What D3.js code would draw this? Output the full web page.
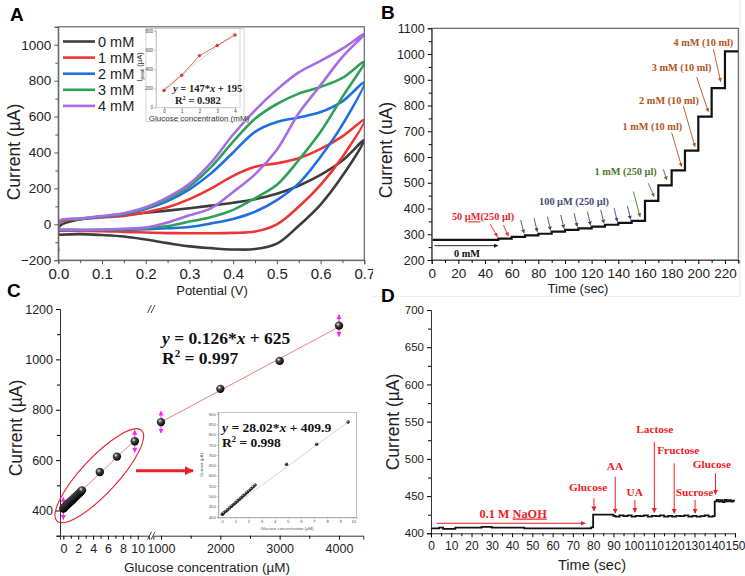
<!DOCTYPE html>
<html>
<head>
<meta charset="utf-8">
<script src="https://cdnjs.cloudflare.com/ajax/libs/d3/7.8.5/d3.min.js"></script>
<style>
body { margin: 0; background: #fff; }
text { font-family: "Liberation Sans", Arial, sans-serif; }
.serif { font-family: "Liberation Serif", "Times New Roman", serif; font-weight: bold; }
</style>
</head>
<body>
<script>
// ---- panel A: cyclic voltammograms ----
var cvNames = ["0 mM", "1 mM", "2 mM", "3 mM", "4 mM"];
var cvColors = ["#3d3d3d", "#ee3535", "#1f6fe0", "#2da157", "#a56ce6"];
var cvV = [0, 0.05, 0.1, 0.15, 0.2, 0.25, 0.3, 0.35, 0.4, 0.45, 0.5, 0.55, 0.6, 0.65, 0.7];
var cvStart = [-58, -35, -150, -30, -30];
var cvUp = [
  [-10, 28, 42, 52, 64, 76, 89, 104, 120, 140, 170, 215, 275, 355, 470],
  [10, 28, 38, 47, 67, 95, 140, 200, 270, 320, 340, 368, 420, 490, 580],
  [15, 30, 42, 55, 85, 130, 195, 285, 400, 515, 570, 595, 625, 685, 790],
  [15, 30, 44, 58, 90, 140, 212, 320, 460, 588, 670, 728, 765, 815, 905],
  [20, 32, 46, 62, 95, 150, 225, 345, 500, 635, 750, 846, 910, 978, 1060]
];
var cvDown = [
  [-58, -55, -60, -68, -85, -105, -123, -133, -140, -138, -108, -8, 110, 270, 470],
  [-35, -37, -38, -42, -46, -49, -50, -50, -48, -40, 0, 98, 220, 375, 580],
  [-30, -32, -32, -30, -28, -22, -15, 5, 30, 70, 135, 228, 376, 555, 790],
  [-30, -32, -30, -28, -22, -10, 15, 40, 80, 145, 220, 358, 515, 710, 905],
  [-30, -32, -30, -25, -18, 10, 50, 90, 180, 278, 415, 618, 775, 932, 1060]
];
// inset A
var peakConc = [0, 1, 2, 3, 4];
var peakCur = [175, 335, 540, 645, 755];

// ---- panel B: amperometric steps ----
var stepTime = [0, 50, 60, 70, 80, 90, 100, 110, 120, 130, 140, 150, 160, 170, 180, 190, 200, 210, 220, 230];
var stepCur = [278, 283, 290, 296, 302, 310, 317, 323, 330, 337, 344, 352, 430, 490, 548, 625, 757, 868, 1010, 1010];
var bNotes = [
  { text: ["50 ", "µM", "(250 µl)"], t: 38.5, I: 368, color: "#e3262a" },
  { text: ["100 µM (250 µl)"], t: 106.8, I: 427, color: "#3e4c74" },
  { text: ["1 mM (250 µl)"], t: 145.5, I: 543, color: "#4a7a2a" },
  { text: ["1 mM (10 ml)"], t: 165.5, I: 718, color: "#b4541c" },
  { text: ["2 mM (10 ml)"], t: 178, I: 819, color: "#b4541c" },
  { text: ["3 mM (10 ml)"], t: 187.5, I: 947, color: "#b4541c" },
  { text: ["4 mM (10 ml)"], t: 203.8, I: 1044, color: "#b4541c" }
];
var bArrows = [
  { t0: 43.8, I0: 340, t1: 49.2, I1: 291, color: "#e3262a" },
  { t0: 53.8, I0: 335, t1: 57.5, I1: 293, color: "#e3262a" },
  { t0: 66.8, I0: 355, t1: 69.2, I1: 304, color: "#3e4c74" },
  { t0: 76.8, I0: 362, t1: 79.2, I1: 310, color: "#3e4c74" },
  { t0: 86.8, I0: 368, t1: 89.2, I1: 316, color: "#3e4c74" },
  { t0: 96.8, I0: 375, t1: 99.2, I1: 323, color: "#3e4c74" },
  { t0: 106.8, I0: 382, t1: 109.2, I1: 330, color: "#3e4c74" },
  { t0: 116.8, I0: 388, t1: 119.2, I1: 336, color: "#3e4c74" },
  { t0: 126.8, I0: 395, t1: 129.2, I1: 343, color: "#3e4c74" },
  { t0: 136.8, I0: 402, t1: 139.2, I1: 350, color: "#3e4c74" },
  { t0: 146.8, I0: 410, t1: 149.2, I1: 358, color: "#3e4c74" },
  { t0: 151.3, I0: 466, t1: 156.3, I1: 368, color: "#4a7a2a" },
  { t0: 162.5, I0: 498, t1: 166.8, I1: 446, color: "#4a7a2a" },
  { t0: 173.8, I0: 552, t1: 176.3, I1: 511, color: "#4a7a2a" },
  { t0: 180, I0: 695, t1: 187.5, I1: 563, color: "#b4541c" },
  { t0: 188.8, I0: 798, t1: 197.5, I1: 640, color: "#b4541c" },
  { t0: 198.8, I0: 910, t1: 207.5, I1: 776, color: "#b4541c" },
  { t0: 211.3, I0: 1019, t1: 216.8, I1: 893, color: "#b4541c" }
];

// ---- panel C: calibration ----
var lowConc = [0, 0.05, 0.1, 0.25, 0.4, 0.55, 0.7, 0.85, 1.0, 1.15, 1.3, 1.45, 1.6, 1.75, 1.9, 2.05, 2.2, 2.35, 2.5];
var lowCur = [408, 410, 412, 416, 420, 425, 429, 433, 437, 441, 445, 450, 454, 458, 462, 466, 471, 475, 480];
var lowCurInset = [412, 415, 418, 426, 434, 443, 451, 460, 468, 476, 485, 493, 502, 510, 519, 527, 536, 545, 554];
var midConc = [4.9, 7.2, 9.6];
var midCur = [553, 614, 675];
var midCurInset = [655, 753, 861];
var highConc = [1000, 2000, 3000, 4000];
var highCur = [751, 883, 994, 1134];
var fitHigh = [0.126, 625];
var fitLow = [28.02, 409.9];

// ---- panel D: interference ----
var dTime = [0, 4, 6, 12, 25, 30, 46, 79, 80, 90,
  91, 93, 95, 97, 99, 101, 103, 105, 107, 109, 111, 113, 115, 117, 119, 121, 123, 125, 127, 129, 131, 133, 135, 137, 139,
  140, 141, 142, 143, 144, 145, 146, 147, 148, 149, 150];
var dCur = [406.5, 407.5, 406, 407.5, 408.5, 407.5, 406.5, 408, 425, 423.5,
  422.5, 424, 423, 424, 422.5, 423.5, 423, 424, 422.5, 423.5, 423, 424, 422.5, 423.5, 422.5, 423.5, 423, 424, 422.5, 423.5, 422.5, 423, 424, 422.5, 423,
  443, 445, 442.5, 444.5, 442, 445, 443, 444.5, 442.5, 444, 444];
var dNotes = [
  { text: "Glucose", t: 77.5, I: 462.7, t0: 80.4, I0: 447, I1: 430 },
  { text: "AA", t: 90.8, I: 490.5, t0: 90.9, I0: 476, I1: 427 },
  { text: "UA", t: 100.5, I: 455, t0: 100.6, I0: 444.8, I1: 428.3 },
  { text: "Lactose", t: 110.4, I: 540, t0: 110.2, I0: 523, I1: 428 },
  { text: "Fructose", t: 122, I: 512.5, t0: 120, I0: 494, I1: 427 },
  { text: "Sucrose", t: 130, I: 455, t0: 130.3, I0: 445, I1: 427 },
  { text: "Glucose", t: 138.6, I: 493, t0: 140.4, I0: 480.7, I1: 452.5 }
];

var svg = d3.select("body").append("svg").attr("width", 745).attr("height", 576);
var defs = svg.append("defs");
var fmtInt = d3.format("d");

function arrowMarker(id, color, size) {
  defs.append("marker").attr("id", id)
    .attr("markerUnits", "userSpaceOnUse")
    .attr("markerWidth", size).attr("markerHeight", size)
    .attr("viewBox", "0 0 10 10").attr("refX", 9).attr("refY", 5)
    .attr("orient", "auto-start-reverse")
    .append("path").attr("d", "M0,0 L10,5 L0,10 z").attr("fill", color);
}
var markerIds = {};
function mk(color, size) {
  var id = "m" + color.replace("#", "") + size;
  if (!markerIds[id]) { arrowMarker(id, color, size); markerIds[id] = 1; }
  return "url(#" + id + ")";
}

var grad = defs.append("radialGradient").attr("id", "ball").attr("cx", "38%").attr("cy", "35%").attr("r", "65%");
grad.append("stop").attr("offset", "0%").attr("stop-color", "#f0f0f0");
grad.append("stop").attr("offset", "35%").attr("stop-color", "#4a4a4a");
grad.append("stop").attr("offset", "100%").attr("stop-color", "#000");

function minorAxis(g, axisFn, scale, values) {
  g.call(axisFn(scale).tickValues(values).tickSize(3).tickFormat(""));
  g.select(".domain").remove();
}

// ================= PANEL A =================
var xA = d3.scaleLinear().domain([0, 0.7]).range([58.3, 364.3]);
var yA = d3.scaleLinear().domain([-200, 1100]).range([260.2, 26.8]);
var gA = svg.append("g");
defs.append("clipPath").attr("id", "clipA").append("rect")
  .attr("x", xA(0)).attr("y", yA(1100)).attr("width", xA(0.7) - xA(0)).attr("height", yA(-200) - yA(1100));

var lineA = d3.line().x(d => xA(d[0])).y(d => yA(d[1])).curve(d3.curveCatmullRom.alpha(0.5));
cvNames.forEach(function (name, i) {
  var pts = [[0, cvStart[i]]];
  cvV.forEach(function (v, j) { pts.push([v === 0 ? 0.003 : v, cvUp[i][j]]); });
  for (var j = cvV.length - 2; j >= 0; j--) pts.push([cvV[j], cvDown[i][j]]);
  gA.append("path").attr("d", lineA(pts)).attr("fill", "none")
    .attr("stroke", cvColors[i]).attr("stroke-width", 2.6).attr("clip-path", "url(#clipA)");
});

gA.append("rect").attr("x", xA(0)).attr("y", yA(1100)).attr("width", xA(0.7) - xA(0))
  .attr("height", yA(-200) - yA(1100)).attr("fill", "none").attr("stroke", "#666").attr("stroke-width", 1.2);

var axAy = gA.append("g").attr("transform", "translate(" + xA(0) + ",0)")
  .call(d3.axisLeft(yA).tickValues([-200, 0, 200, 400, 600, 800, 1000]).tickFormat(fmtInt).tickSize(4).tickPadding(3));
minorAxis(gA.append("g").attr("transform", "translate(" + xA(0) + ",0)"), d3.axisLeft, yA, [-100, 100, 300, 500, 700, 900, 1100]);
axAy.selectAll("text").attr("font-size", 13.5).attr("fill", "#222");
var axAx = gA.append("g").attr("transform", "translate(0," + yA(-200) + ")")
  .call(d3.axisBottom(xA).tickValues([0, 0.1, 0.2, 0.3, 0.4, 0.5, 0.6, 0.7]).tickFormat(d3.format(".1f")).tickSize(4).tickPadding(4));
minorAxis(gA.append("g").attr("transform", "translate(0," + yA(-200) + ")"), d3.axisBottom, xA, [0.05, 0.15, 0.25, 0.35, 0.45, 0.55, 0.65]);
axAx.selectAll("text").attr("font-size", 15).attr("fill", "#222");
gA.selectAll(".domain").attr("stroke", "#666");
gA.selectAll(".tick line").attr("stroke", "#555");

gA.append("text").attr("transform", "translate(20,152) rotate(-90)").attr("text-anchor", "middle")
  .attr("font-size", 17.5).attr("fill", "#222").text("Current (µA)");
gA.append("text").attr("x", 212).attr("y", 295).attr("text-anchor", "middle")
  .attr("font-size", 13).attr("fill", "#222").text("Potential (V)");

// legend A
cvNames.forEach(function (name, i) {
  var yy = 41.5 + i * 16.1;
  gA.append("line").attr("x1", 63).attr("x2", 95).attr("y1", yy).attr("y2", yy)
    .attr("stroke", cvColors[i]).attr("stroke-width", 2.6);
  gA.append("text").attr("x", 98).attr("y", yy).attr("dy", "0.35em")
    .attr("font-size", 14.5).attr("fill", "#222").text(name);
});

// inset A
var xAi = d3.scaleLinear().domain([0, 4]).range([164, 235]);
var yAi = d3.scaleLinear().domain([0, 800]).range([107.3, 30.7]);
var gAi = svg.append("g");
gAi.append("rect").attr("x", 146).attr("y", 28.5).attr("width", 98).attr("height", 93)
  .attr("fill", "#fff").attr("stroke", "#ccc").attr("stroke-width", 0.8);
gAi.append("rect").attr("x", 156).attr("y", 28.5).attr("width", 84).attr("height", 78.8)
  .attr("fill", "#fff").attr("stroke", "#bbb").attr("stroke-width", 0.6);
gAi.append("g").attr("transform", "translate(156,0)")
  .call(d3.axisLeft(yAi).tickValues([0, 200, 400, 600, 800]).tickFormat(fmtInt).tickSize(2).tickPadding(1));
gAi.append("g").attr("transform", "translate(0,107.3)")
  .call(d3.axisBottom(xAi).tickValues([0, 1, 2, 3, 4]).tickFormat(fmtInt).tickSize(2).tickPadding(1));
gAi.selectAll(".domain").attr("stroke", "#bbb").attr("stroke-width", 0.6);
gAi.selectAll(".tick line").attr("stroke", "#999").attr("stroke-width", 0.5);
gAi.selectAll(".tick text").attr("font-size", 4.5).attr("fill", "#444");
gAi.append("line").attr("x1", xAi(0)).attr("y1", yAi(195)).attr("x2", xAi(4)).attr("y2", yAi(147 * 4 + 195))
  .attr("stroke", "#bbb").attr("stroke-width", 0.6);
var peakData = peakConc.map((c, i) => [c, peakCur[i]]);
gAi.append("path").attr("d", d3.line().x(d => xAi(d[0])).y(d => yAi(d[1]))(peakData))
  .attr("fill", "none").attr("stroke", "#d9534f").attr("stroke-width", 0.9);
gAi.selectAll("circle").data(peakData).join("circle")
  .attr("cx", d => xAi(d[0])).attr("cy", d => yAi(d[1])).attr("r", 1.7).attr("fill", "#d43a3a");
var ipk = gAi.append("text").attr("transform", "translate(142,67) rotate(-90)").attr("text-anchor", "middle")
  .attr("font-size", 7.5).attr("fill", "#333");
ipk.append("tspan").text("I");
ipk.append("tspan").attr("font-size", 5).attr("dy", 2).text("peak");
ipk.append("tspan").attr("dy", -2).text(" (µA)");
gAi.append("text").attr("x", 199).attr("y", 121).attr("text-anchor", "middle")
  .attr("font-size", 8).attr("fill", "#333").text("Glucose concentration (mM)");
var eqA = gAi.append("text").attr("class", "serif").attr("x", 173).attr("y", 92).attr("font-size", 10.5).attr("fill", "#222");
eqA.append("tspan").attr("font-style", "italic").text("y");
eqA.append("tspan").text(" = 147*");
eqA.append("tspan").attr("font-style", "italic").text("x");
eqA.append("tspan").text(" + 195");
var rA = gAi.append("text").attr("class", "serif").attr("x", 175).attr("y", 104).attr("font-size", 10.5).attr("fill", "#222");
rA.append("tspan").text("R");
rA.append("tspan").attr("font-size", 6.5).attr("dy", -4).text("2");
rA.append("tspan").attr("dy", 4).text(" = 0.982");

svg.append("text").attr("x", 10).attr("y", 21).attr("font-size", 19).attr("font-weight", "bold").text("A");

// ================= PANEL B =================
var gB = svg.append("g");
gB.append("rect").attr("x", 373).attr("y", 0).attr("width", 372).attr("height", 296).attr("fill", "#fff");
gB.append("line").attr("x1", 740).attr("x2", 740).attr("y1", 0).attr("y2", 296.5).attr("stroke", "#e6e6e6");
gB.append("line").attr("x1", 373).attr("x2", 740).attr("y1", 296.5).attr("y2", 296.5).attr("stroke", "#eee");
var xB = d3.scaleLinear().domain([0, 230]).range([431.7, 738.3]);
var yB = d3.scaleLinear().domain([200, 1100]).range([260, 28.3]);
var stepData = stepTime.map((t, i) => [t, stepCur[i]]);
gB.append("path").attr("d", d3.line().x(d => xB(d[0])).y(d => yB(d[1])).curve(d3.curveStepAfter)(stepData))
  .attr("fill", "none").attr("stroke", "#111").attr("stroke-width", 2.2);
gB.append("rect").attr("x", xB(0)).attr("y", yB(1100)).attr("width", xB(230) - xB(0))
  .attr("height", yB(200) - yB(1100)).attr("fill", "none").attr("stroke", "#555").attr("stroke-width", 1.1);
var axBy = gB.append("g").attr("transform", "translate(" + xB(0) + ",0)")
  .call(d3.axisLeft(yB).tickValues(d3.range(200, 1101, 100)).tickFormat(fmtInt).tickSize(4).tickPadding(3));
minorAxis(gB.append("g").attr("transform", "translate(" + xB(0) + ",0)"), d3.axisLeft, yB, d3.range(250, 1100, 100));
axBy.selectAll("text").attr("font-size", 12.5).attr("fill", "#222");
var axBx = gB.append("g").attr("transform", "translate(0," + yB(200) + ")")
  .call(d3.axisBottom(xB).tickValues(d3.range(0, 221, 20)).tickFormat(fmtInt).tickSize(4).tickPadding(4));
minorAxis(gB.append("g").attr("transform", "translate(0," + yB(200) + ")"), d3.axisBottom, xB, d3.range(10, 231, 20));
axBx.selectAll("text").attr("font-size", 13.5).attr("fill", "#222");
gB.selectAll(".domain").attr("stroke", "#555");
gB.append("text").attr("transform", "translate(392,150) rotate(-90)").attr("text-anchor", "middle")
  .attr("font-size", 17.5).attr("fill", "#222").text("Current (uA)");
gB.append("text").attr("x", 578).attr("y", 293).attr("text-anchor", "middle")
  .attr("font-size", 13).attr("fill", "#222").text("Time (sec)");

bArrows.forEach(function (a) {
  gB.append("line").attr("x1", xB(a.t0)).attr("y1", yB(a.I0)).attr("x2", xB(a.t1)).attr("y2", yB(a.I1))
    .attr("stroke", a.color).attr("stroke-width", 0.9).attr("marker-end", mk(a.color, 4));
});
bNotes.forEach(function (n) {
  var t = gB.append("text").attr("class", "serif").attr("x", xB(n.t)).attr("y", yB(n.I)).attr("dy", "0.35em")
    .attr("text-anchor", "middle").attr("font-size", 10.3).attr("fill", n.color);
  n.text.forEach(function (s, k) {
    var sp = t.append("tspan").text(s);
    if (n.text.length > 1 && k === 1) sp.attr("text-decoration", "underline");
  });
});
gB.append("line").attr("x1", xB(2)).attr("x2", xB(49.5)).attr("y1", yB(255.7)).attr("y2", yB(255.7))
  .attr("stroke", "#111").attr("stroke-width", 0.9).attr("marker-end", mk("#111111", 4));
gB.append("text").attr("class", "serif").attr("x", xB(26.5)).attr("y", yB(224)).attr("dy", "0.35em")
  .attr("text-anchor", "middle").attr("font-size", 10.3).attr("fill", "#111").text("0 mM");

svg.append("text").attr("x", 381).attr("y", 19).attr("font-size", 19).attr("font-weight", "bold").text("B");

// ================= PANEL C =================
var gC = svg.append("g");
var yC = d3.scaleLinear().domain([300, 1200]).range([535.7, 309]);
var xC1 = d3.scaleLinear().domain([-0.45, 11.5]).range([60, 148.9]);
var xC2 = d3.scaleLinear().domain([870, 4410]).range([153.3, 363.3]);

var axCy = gC.append("g").attr("transform", "translate(60,0)")
  .call(d3.axisLeft(yC).tickValues([400, 600, 800, 1000, 1200]).tickFormat(fmtInt).tickSize(4).tickPadding(3));
minorAxis(gC.append("g").attr("transform", "translate(60,0)"), d3.axisLeft, yC, [300, 500, 700, 900, 1100]);
var axC1 = gC.append("g").attr("transform", "translate(0,535.7)")
  .call(d3.axisBottom(xC1).tickValues([0, 2, 4, 6, 8, 10]).tickFormat(fmtInt).tickSize(4).tickPadding(4));
minorAxis(gC.append("g").attr("transform", "translate(0,535.7)"), d3.axisBottom, xC1, [1, 3, 5, 7, 9]);
var axC2 = gC.append("g").attr("transform", "translate(0,535.7)")
  .call(d3.axisBottom(xC2).tickValues([1000, 2000, 3000, 4000]).tickFormat(fmtInt).tickSize(4).tickPadding(4));
minorAxis(gC.append("g").attr("transform", "translate(0,535.7)"), d3.axisBottom, xC2, [1500, 2500, 3500]);
gC.selectAll(".tick text").attr("font-size", 12.5).attr("fill", "#222");
gC.selectAll(".domain").attr("stroke", "#333");
// axis break marks
[535.7, 309].forEach(function (yy) {
  [149.5, 153].forEach(function (xx) {
    gC.append("line").attr("x1", xx - 2).attr("y1", yy + 4).attr("x2", xx + 2).attr("y2", yy - 4)
      .attr("stroke", "#333").attr("stroke-width", 0.9);
  });
});
gC.append("text").attr("transform", "translate(22,428) rotate(-90)").attr("text-anchor", "middle")
  .attr("font-size", 17.5).attr("fill", "#222").text("Current (µA)");
gC.append("text").attr("x", 207).attr("y", 572).attr("text-anchor", "middle")
  .attr("font-size", 13.5).attr("fill", "#222").text("Glucose concentration (µM)");

// fit lines
gC.append("line").attr("x1", xC1(0)).attr("y1", yC(fitLow[1])).attr("x2", xC1(9.6)).attr("y2", yC(fitLow[0] * 9.6 + fitLow[1]))
  .attr("stroke", "#f08080").attr("stroke-width", 1);
gC.append("line").attr("x1", xC2(1000)).attr("y1", yC(fitHigh[0] * 1000 + fitHigh[1])).attr("x2", xC2(4000)).attr("y2", yC(fitHigh[0] * 4000 + fitHigh[1]))
  .attr("stroke", "#f08080").attr("stroke-width", 1);

// error arrows (magenta)
var errPts = [[xC1(lowConc[0]), yC(lowCur[0])], [xC1(midConc[2]), yC(midCur[2])],
  [xC2(highConc[0]), yC(highCur[0])], [xC2(highConc[3]), yC(highCur[3])]];
errPts.forEach(function (p) {
  gC.append("line").attr("x1", p[0]).attr("x2", p[0]).attr("y1", p[1] - 11).attr("y2", p[1] + 11)
    .attr("stroke", "#ff20ff").attr("stroke-width", 1)
    .attr("marker-start", mk("#ff20ff", 5)).attr("marker-end", mk("#ff20ff", 5));
});

var cPts = lowConc.map((c, i) => [xC1(c), yC(lowCur[i])])
  .concat(midConc.map((c, i) => [xC1(c), yC(midCur[i])]))
  .concat(highConc.map((c, i) => [xC2(c), yC(highCur[i])]));
gC.selectAll("circle.pt").data(cPts).join("circle").attr("class", "pt")
  .attr("cx", d => d[0]).attr("cy", d => d[1]).attr("r", 4.2).attr("fill", "url(#ball)");

// red ellipse + arrow
gC.append("ellipse").attr("transform", "translate(99.3,475.7) rotate(-47)")
  .attr("rx", 62).attr("ry", 18).attr("fill", "none").attr("stroke", "#e8232a").attr("stroke-width", 1.1);
gC.append("line").attr("x1", 136).attr("x2", 193).attr("y1", 470.7).attr("y2", 470.7)
  .attr("stroke", "#e8232a").attr("stroke-width", 3).attr("marker-end", mk("#e8232a", 9));

var eqC = gC.append("text").attr("class", "serif").attr("x", 162).attr("y", 344).attr("font-size", 17.5).attr("fill", "#111");
eqC.append("tspan").attr("font-style", "italic").text("y");
eqC.append("tspan").text(" = 0.126*");
eqC.append("tspan").attr("font-style", "italic").text("x");
eqC.append("tspan").text(" + 625");
var rC = gC.append("text").attr("class", "serif").attr("x", 162).attr("y", 364).attr("font-size", 17.5).attr("fill", "#111");
rC.append("tspan").text("R");
rC.append("tspan").attr("font-size", 11).attr("dy", -7).text("2");
rC.append("tspan").attr("dy", 7).text(" = 0.997");

// inset C
var xCi = d3.scaleLinear().domain([-0.3, 10.26]).range([218.3, 356.7]);
var yCi = d3.scaleLinear().domain([397, 906]).range([517.3, 412.7]);
var gCi = svg.append("g");
gCi.append("rect").attr("x", 218.3).attr("y", 412.7).attr("width", 356.7 - 218.3).attr("height", 517.3 - 412.7)
  .attr("fill", "#fff").attr("stroke", "#999").attr("stroke-width", 0.6);
gCi.append("g").attr("transform", "translate(218.3,0)")
  .call(d3.axisLeft(yCi).tickValues(d3.range(400, 901, 50)).tickFormat(fmtInt).tickSize(1.5).tickPadding(1));
gCi.append("g").attr("transform", "translate(0,517.3)")
  .call(d3.axisBottom(xCi).tickValues(d3.range(0, 11, 1)).tickFormat(fmtInt).tickSize(1.5).tickPadding(1));
gCi.selectAll(".domain").attr("stroke", "#999").attr("stroke-width", 0.6);
gCi.selectAll(".tick line").attr("stroke", "#888").attr("stroke-width", 0.5);
gCi.selectAll(".tick text").attr("font-size", 4.3).attr("fill", "#555");
gCi.append("text").attr("transform", "translate(203,465) rotate(-90)").attr("text-anchor", "middle")
  .attr("font-size", 4.3).attr("fill", "#555").text("Current (µA)");
gCi.append("text").attr("x", 287).attr("y", 529.5).attr("text-anchor", "middle")
  .attr("font-size", 4.3).attr("fill", "#555").text("Glucose concentration (µM)");
var iConc = lowConc.concat(midConc);
var iCur = lowCurInset.concat(midCurInset);
gCi.append("line").attr("x1", xCi(iConc[0])).attr("y1", yCi(iCur[0]))
  .attr("x2", xCi(iConc[iConc.length - 1])).attr("y2", yCi(iCur[iCur.length - 1]))
  .attr("stroke", "#aaa").attr("stroke-width", 0.5);
gCi.selectAll("circle").data(iConc.map((c, i) => [c, iCur[i]])).join("circle")
  .attr("cx", d => xCi(d[0])).attr("cy", d => yCi(d[1])).attr("r", 1.7).attr("fill", "url(#ball)");
var eqCi = gCi.append("text").attr("class", "serif").attr("x", 222).attr("y", 432).attr("font-size", 13.5).attr("fill", "#111");
eqCi.append("tspan").attr("font-style", "italic").text("y");
eqCi.append("tspan").text(" = 28.02*");
eqCi.append("tspan").attr("font-style", "italic").text("x");
eqCi.append("tspan").text(" + 409.9");
var rCi = gCi.append("text").attr("class", "serif").attr("x", 222).attr("y", 447).attr("font-size", 13.5).attr("fill", "#111");
rCi.append("tspan").text("R");
rCi.append("tspan").attr("font-size", 8.5).attr("dy", -5).text("2");
rCi.append("tspan").attr("dy", 5).text(" = 0.998");

svg.append("text").attr("x", 7).attr("y", 297).attr("font-size", 19).attr("font-weight", "bold").text("C");

// ================= PANEL D =================
var gD = svg.append("g");
var xD = d3.scaleLinear().domain([0, 150]).range([431, 735]);
var yD = d3.scaleLinear().domain([400, 700]).range([533.3, 310]);
var axDy = gD.append("g").attr("transform", "translate(" + xD(0) + ",0)")
  .call(d3.axisLeft(yD).tickValues(d3.range(400, 701, 50)).tickFormat(fmtInt).tickSize(4).tickPadding(3));
minorAxis(gD.append("g").attr("transform", "translate(" + xD(0) + ",0)"), d3.axisLeft, yD, d3.range(425, 700, 50));
var axDx = gD.append("g").attr("transform", "translate(0," + yD(400) + ")")
  .call(d3.axisBottom(xD).tickValues(d3.range(0, 151, 10)).tickFormat(fmtInt).tickSize(4).tickPadding(4));
minorAxis(gD.append("g").attr("transform", "translate(0," + yD(400) + ")"), d3.axisBottom, xD, d3.range(5, 150, 10));
axDy.selectAll("text").attr("font-size", 11.5).attr("fill", "#222");
axDx.selectAll("text").attr("font-size", 12).attr("fill", "#222");
gD.selectAll(".domain").attr("stroke", "#333");
gD.append("text").attr("transform", "translate(399,422) rotate(-90)").attr("text-anchor", "middle")
  .attr("font-size", 17.5).attr("fill", "#222").text("Current (µA)");
gD.append("text").attr("x", 592).attr("y", 570).attr("text-anchor", "middle")
  .attr("font-size", 14.5).attr("fill", "#222").text("Time (sec)");

var dData = dTime.map((t, i) => [t, dCur[i]]);
gD.append("path").attr("d", d3.line().x(d => xD(d[0])).y(d => yD(d[1])).curve(d3.curveStepAfter)(dData))
  .attr("fill", "none").attr("stroke", "#111").attr("stroke-width", 1.8);

var red = "#ee1c25";
gD.append("line").attr("x1", xD(2.8)).attr("x2", xD(76)).attr("y1", yD(413.5)).attr("y2", yD(413.5))
  .attr("stroke", red).attr("stroke-width", 1).attr("marker-end", mk(red, 5));
var naoh = gD.append("text").attr("class", "serif").attr("x", xD(40.5)).attr("y", yD(427)).attr("dy", "0.35em")
  .attr("text-anchor", "middle").attr("font-size", 12.3).attr("fill", red);
naoh.append("tspan").text("0.1 M ");
naoh.append("tspan").attr("text-decoration", "underline").text("NaOH");
dNotes.forEach(function (n) {
  gD.append("line").attr("x1", xD(n.t0)).attr("x2", xD(n.t0)).attr("y1", yD(n.I0)).attr("y2", yD(n.I1))
    .attr("stroke", red).attr("stroke-width", 1).attr("marker-end", mk(red, 5));
  gD.append("text").attr("class", "serif").attr("x", xD(n.t)).attr("y", yD(n.I)).attr("dy", "0.35em")
    .attr("text-anchor", "middle").attr("font-size", 11.3).attr("fill", red).text(n.text);
});

svg.append("text").attr("x", 381).attr("y", 302).attr("font-size", 19).attr("font-weight", "bold").text("D");
</script>
</body>
</html>
